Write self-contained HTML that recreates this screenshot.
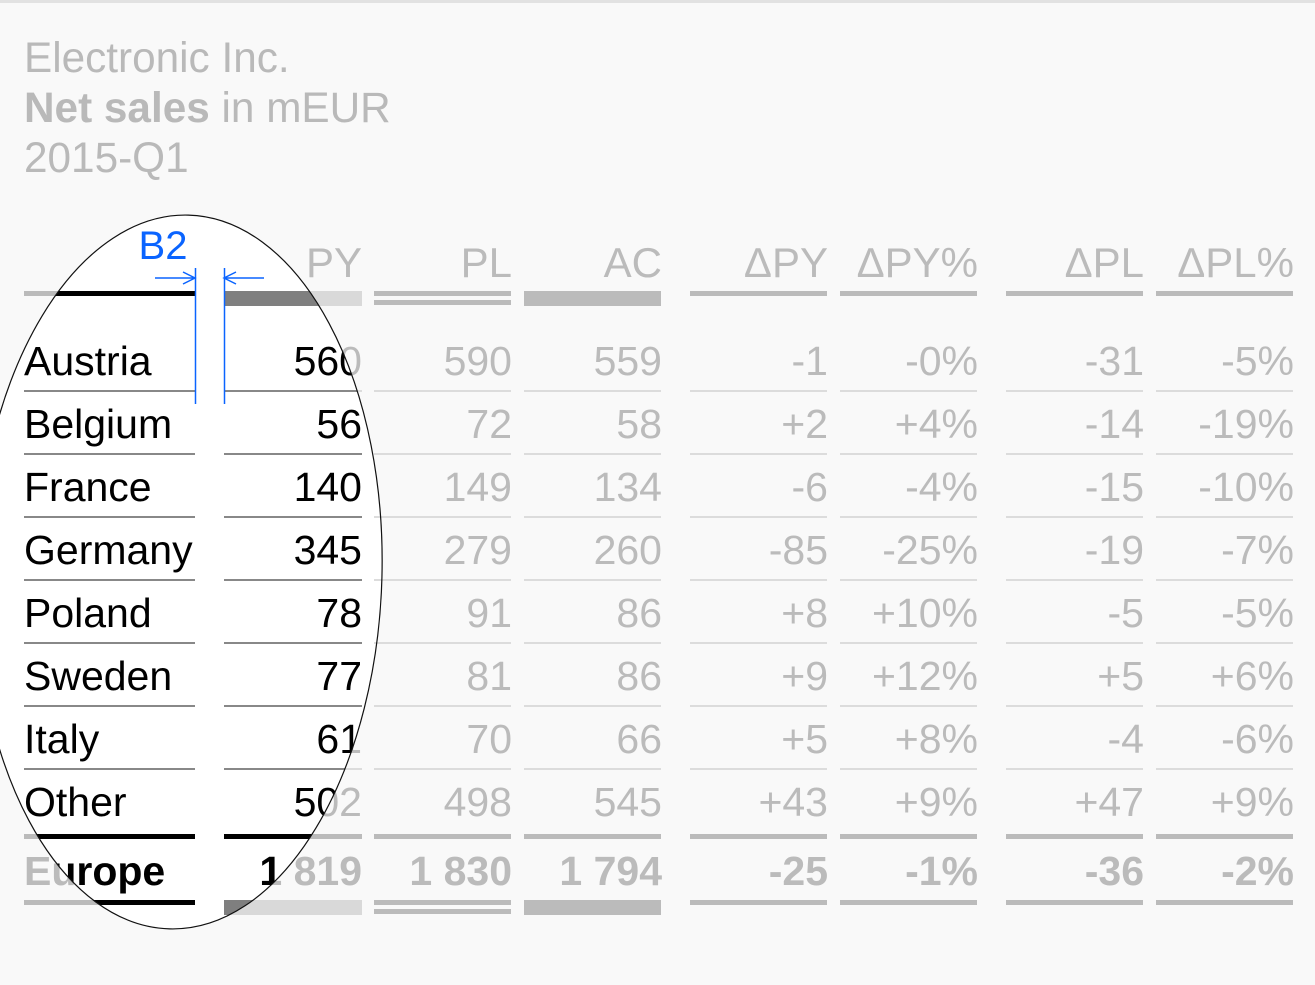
<!DOCTYPE html>
<html><head><meta charset="utf-8">
<style>
html,body{margin:0;padding:0;background:#f9f9f9;}
svg{display:block;font-family:"Liberation Sans",Arial,sans-serif;}
</style></head>
<body>
<svg id="chart" width="1315" height="985" viewBox="0 0 1315 985" xmlns="http://www.w3.org/2000/svg">
  <rect x="0" y="0" width="1315" height="985" fill="#f9f9f9"/>
  <line x1="0" y1="1.5" x2="1315" y2="1.5" stroke="#e2e2e2" stroke-width="3"/>
  <g fill="#b9b9b9" font-size="42.3">
    <text x="24" y="72">Electronic Inc.</text>
    <text x="24" y="122"><tspan font-weight="bold">Net sales</tspan> in mEUR</text>
    <text x="24" y="172">2015-Q1</text>
  </g>
  <defs>
    <clipPath id="lens"><ellipse cx="179" cy="572" rx="203" ry="357" transform="rotate(1.5 179 572)"/></clipPath>
  </defs>
  <g id="base"></g>
  <g clip-path="url(#lens)">
    <rect x="0" y="200" width="400" height="750" fill="#ffffff"/>
    <g id="lensg"></g>
  </g>
  <ellipse cx="179" cy="572" rx="203" ry="357" transform="rotate(1.5 179 572)" fill="none" stroke="#111" stroke-width="1.2"/>
  <g stroke="#0a64ff" stroke-width="1.5" fill="none">
    <line x1="195.5" y1="268" x2="195.5" y2="404"/>
    <line x1="224.5" y1="268" x2="224.5" y2="404"/>
    <path d="M155 278 H195 M183 272 L195 278 L183 284"/>
    <path d="M264 278 H224 M236 272 L224 278 L236 284"/>
    <text x="163" y="259" text-anchor="middle" fill="#0a64ff" stroke="none" font-size="40">B2</text>
  </g>
</svg>
<script>
const countries = ["Austria","Belgium","France","Germany","Poland","Sweden","Italy","Other"];
const headers = ["PY","PL","AC","ΔPY","ΔPY%","ΔPL","ΔPL%"];
const PY = [560,56,140,345,78,77,61,502];
const PL = [590,72,149,279,91,81,70,498];
const AC = [559,58,134,260,86,86,66,545];
const dPY = ["-1","+2","-6","-85","+8","+9","+5","+43"];
const dPYp = ["-0%","+4%","-4%","-25%","+10%","+12%","+8%","+9%"];
const dPL = ["-31","-14","-15","-19","-5","+5","-4","+47"];
const dPLp = ["-5%","-19%","-10%","-7%","-5%","+6%","-6%","+9%"];
const totalLabel = "Europe";
const totals = ["1 819","1 830","1 794","-25","-1%","-36","-2%"];

const NS="http://www.w3.org/2000/svg";
const colL=[224,374,524,690,840,1006,1156], colW=137;
const labelX0=24, labelX1=195;
const rowY0=375, rowH=63, totY=885;
function el(p,tag,attrs){const e=document.createElementNS(NS,tag);for(const k in attrs)e.setAttribute(k,attrs[k]);p.appendChild(e);return e;}
function fmt(v){return typeof v==="number"?String(v):v;}
function draw(g,dark){
  const txt=dark?"#000":"#bbbbbb", sep=dark?"#888":"#dcdcdc", bar=dark?"#000":"#bbbbbb";
  const cols=[PY,PL,AC,dPY,dPYp,dPL,dPLp];
  headers.forEach((h,i)=>{
    const t=el(g,"text",{x:colL[i]+colW+1,y:277,"text-anchor":"end","font-size":42,fill:"#bbbbbb"});
    
    
    t.textContent=h;
  });
  let r=el(g,"rect",{x:labelX0,y:291,width:labelX1-labelX0,height:5,fill:dark?"#000":"#bbbbbb"});
  
  
  function scen(i,y){
    if(i===0){
      r=el(g,"rect",{x:colL[0],y:y,width:colW+1,height:15,fill:dark?"#7f7f7f":"#d9d9d9"});
      
      
    } else if(i===1){
      [0,9].forEach(o=>{r=el(g,"rect",{x:colL[1],y:y+o,width:colW,height:5,fill:"#bbbbbb"});
        
        });
    } else if(i===2){
      r=el(g,"rect",{x:colL[2],y:y,width:colW,height:15,fill:"#bbbbbb"});
      
      
    } else {
      r=el(g,"rect",{x:colL[i],y:y,width:colW,height:5,fill:"#bbbbbb"});
      
      
    }
  }
  for(let i=0;i<7;i++)scen(i,291);
  countries.forEach((c,j)=>{
    const y=rowY0+j*rowH;
    let t=el(g,"text",{x:labelX0,y:y,"font-size":41,fill:txt});
    
    
    t.textContent=c;
    cols.forEach((arr,i)=>{
      const col=(i===0)?txt:"#bbbbbb";
      t=el(g,"text",{x:colL[i]+colW+1,y:y,"text-anchor":"end","font-size":41,fill:col});
      
      
      t.textContent=fmt(arr[j]);
    });
    const last=j===countries.length-1;
    const ly=y+(last?18:15);
    const lh=last?5:2;
    const lc=last?bar:sep;
    r=el(g,"rect",{x:labelX0,y:ly,width:labelX1-labelX0,height:lh,fill:lc});
    
    
    for(let i=0;i<7;i++){
      const cc=(i===0)?lc:(last?"#bbbbbb":"#dcdcdc");
      r=el(g,"rect",{x:colL[i],y:ly,width:i===0?colW+1:colW,height:lh,fill:cc});
      
      
    }
  });
  let t=el(g,"text",{x:labelX0,y:totY,"font-size":41,"font-weight":"bold",fill:txt});
  
  
  t.textContent=totalLabel;
  totals.forEach((v,i)=>{
    t=el(g,"text",{x:colL[i]+colW+1,y:totY,"text-anchor":"end","font-size":41,"font-weight":"bold",fill:i===0?txt:"#bbbbbb"});
    
    
    t.textContent=v;
  });
  r=el(g,"rect",{x:labelX0,y:900,width:labelX1-labelX0,height:5,fill:bar});
  
  
  for(let i=0;i<7;i++)scen(i,900);
}
draw(document.getElementById("base"),false);
draw(document.getElementById("lensg"),true);
</script>
</body></html>
